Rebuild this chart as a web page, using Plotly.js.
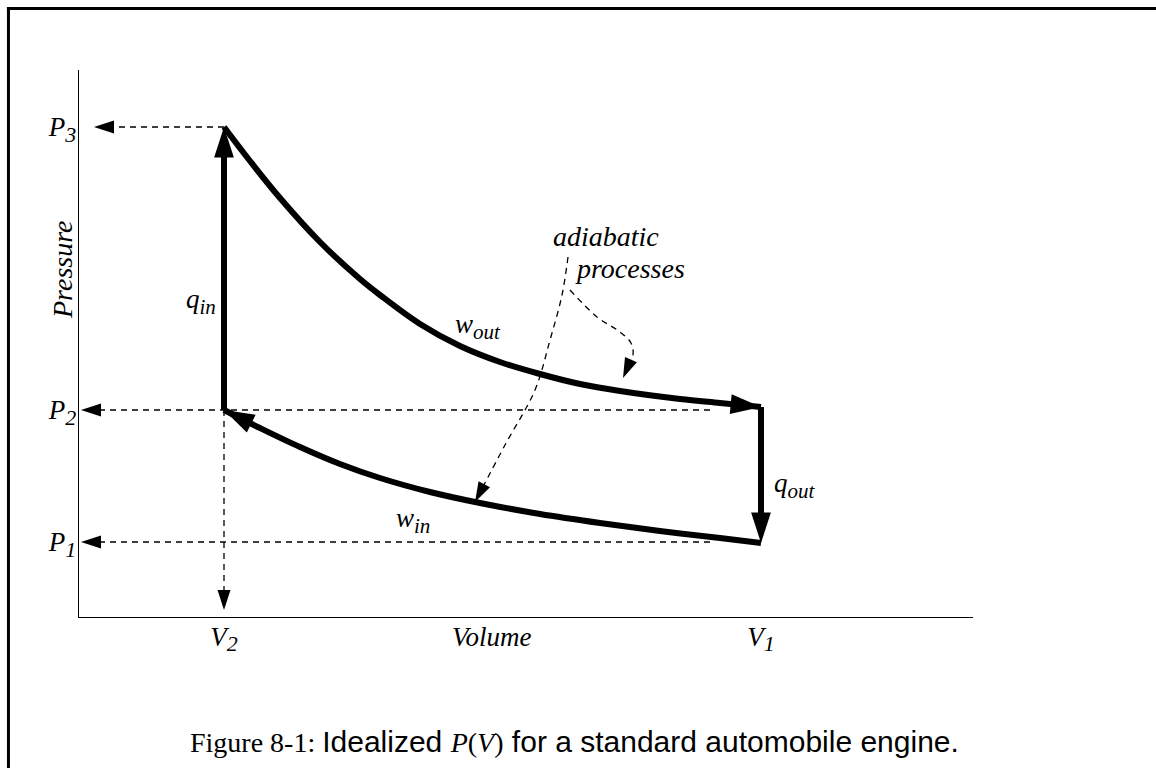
<!DOCTYPE html>
<html><head><meta charset="utf-8">
<script src="https://cdn.plot.ly/plotly-3.0.1.min.js"></script>
<style>html,body{margin:0;padding:0;background:#fff}#chart{width:1156px;height:768px}</style>
</head><body><div id="chart"></div>
<script>
// Drawing units (volume horizontally, pressure vertically)
const V2 = 145, V1 = 682;
const P1 = 75, P2 = 207, P3 = 490;
const volumeTicks = [V2, V1];
const volumeTickLabels = ['V<sub><span style="font-size:22px">2</span></sub>', 'V<sub><span style="font-size:22px">1</span></sub>'];
const pressureTicks = [P1, P2, P3];
const pressureTickLabels = ['P<sub><span style="font-size:22px">1</span></sub>', 'P<sub><span style="font-size:22px">2</span></sub>', 'P<sub><span style="font-size:22px">3</span></sub>'];

// q_in : constant-volume heat addition (V2, P2 -> P3)
const qinV = [145, 145];
const qinP = [207, 490];
// w_out : adiabatic expansion
const expV = [145, 171, 201, 241, 281, 301, 341, 381, 421, 461, 501, 541, 601, 641, 682];
const expP = [490, 456, 419, 375, 338, 322, 293, 271, 255, 243, 233, 226, 218, 214, 210];
// q_out : constant-volume heat rejection
const qoutV = [682, 682];
const qoutP = [210, 74];
// w_in : adiabatic compression
const compV = [682, 641, 581, 521, 461, 401, 351, 301, 261, 221, 181, 145];
const compP = [74, 79, 86, 94, 103, 114, 125, 139, 153, 170, 189, 207];

// dashed guide lines
const p3GuideV = [145, 15], p3GuideP = [490, 490];
const p2GuideV = [631, 2], p2GuideP = [207, 207];
const p1GuideV = [631, 2], p1GuideP = [75, 75];
const v2GuideV = [145, 145], v2GuideP = [207, 7];
// "adiabatic processes" pointers
const ptrInV = [489, 483, 471, 456, 426, 396];
const ptrInP = [360, 322, 277, 227, 172, 115];
const ptrOutV = [491, 518, 541, 552, 554, 544];
const ptrOutP = [327, 300, 285, 274, 262, 239];

function arrowPath(x, y, width, headSize, dash, smooth) {
  return {
    x: x, y: y, type: 'scatter', mode: 'lines+markers',
    line: {color: 'black', width: width, dash: dash || 'solid', shape: smooth ? 'spline' : 'linear', backoff: 'auto'},
    marker: {symbol: 'arrow', angleref: 'previous', color: 'black', opacity: 1, line: {width: 0},
             size: x.map((_, i) => i === x.length - 1 ? headSize : 0)},
    hoverinfo: 'skip', showlegend: false, cliponaxis: false
  };
}

const thin = 1.3, thick = 6, dashPat = '6px,5px';
const thinHead = 21, thickHead = 32;
const traces = [
  arrowPath(p3GuideV, p3GuideP, thin, thinHead, dashPat, false),
  arrowPath(p2GuideV, p2GuideP, thin, thinHead, dashPat, false),
  arrowPath(p1GuideV, p1GuideP, thin, thinHead, dashPat, false),
  arrowPath(v2GuideV, v2GuideP, thin, thinHead, dashPat, false),
  arrowPath(ptrInV, ptrInP, thin, thinHead, dashPat, true),
  arrowPath(ptrOutV, ptrOutP, thin, thinHead, dashPat, true),
  arrowPath(qinV, qinP, thick, thickHead, null, false),
  arrowPath(expV, expP, thick, thickHead, null, true),
  arrowPath(qoutV, qoutP, thick, thickHead, null, false),
  arrowPath(compV, compP, thick, thickHead, null, true)
];

const labelFont = {family: 'Liberation Serif', size: 27, style: 'italic', color: 'black'};
function sub(t) { return '<sub><span style="font-size:21px">' + t + '</span></sub>'; }
function dataLabel(text, x, y, xanchor) {
  return {text: text, x: x, y: y, xref: 'x', yref: 'y', showarrow: false,
          xanchor: xanchor || 'center', yanchor: 'middle', font: labelFont};
}
function paperLabel(text, x, y, extra) {
  return Object.assign({text: text, x: x, y: y, xref: 'paper', yref: 'paper', showarrow: false,
          xanchor: 'center', yanchor: 'middle', font: labelFont}, extra || {});
}

const axisCommon = {
  showgrid: false, zeroline: false, showline: true, linecolor: 'black', linewidth: 1.3,
  ticks: '', fixedrange: true, tickfont: labelFont
};

const layout = {
  width: 1156, height: 768,
  margin: {l: 79, r: 183, t: 70, b: 151, pad: 0},
  paper_bgcolor: 'white', plot_bgcolor: 'white',
  showlegend: false,
  font: {family: 'Liberation Serif', color: 'black'},
  xaxis: Object.assign({}, axisCommon, {range: [0, 894], tickvals: volumeTicks, ticktext: volumeTickLabels, ticklabelstandoff: -5}),
  yaxis: Object.assign({}, axisCommon, {range: [0, 547], tickvals: pressureTicks, ticktext: pressureTickLabels, ticklabelstandoff: -4}),
  annotations: [
    dataLabel('q' + sub('in'), 139, 316, 'right'),
    dataLabel('q' + sub('out'), 693, 132, 'left'),
    dataLabel('w' + sub('out'), 399, 291),
    dataLabel('w' + sub('in'), 334, 97),
    Object.assign(dataLabel('adiabatic', 527, 381), {font: Object.assign({}, labelFont, {size: 28})}),
    Object.assign(dataLabel('processes', 551, 349), {font: Object.assign({}, labelFont, {size: 28})}),
    paperLabel('Pressure', -0.0179, 0.6344, {textangle: -90, font: Object.assign({}, labelFont, {size: 28})}),
    paperLabel('Volume', 0.462, -0.0366),
    paperLabel('Figure 8-1: <span style="font-family:Liberation Sans;font-size:30px">Idealized </span><i>P</i>(<i>V</i>)<span style="font-family:Liberation Sans;font-size:30px"> for a standard automobile engine.</span>',
               0.5537, -0.2285, {font: {family: 'Liberation Serif', size: 28, color: 'black'}})
  ],
  shapes: [
    {type: 'line', xref: 'paper', yref: 'paper', x0: -0.0806, x1: 1.25, y0: 1.1124, y1: 1.1124, line: {color: 'black', width: 3}},
    {type: 'line', xref: 'paper', yref: 'paper', x0: -0.0789, x1: -0.0789, y0: 1.1151, y1: -0.3, line: {color: 'black', width: 3}}
  ]
};

Plotly.newPlot('chart', traces, layout, {staticPlot: true, displayModeBar: false});
</script>
</body></html>
